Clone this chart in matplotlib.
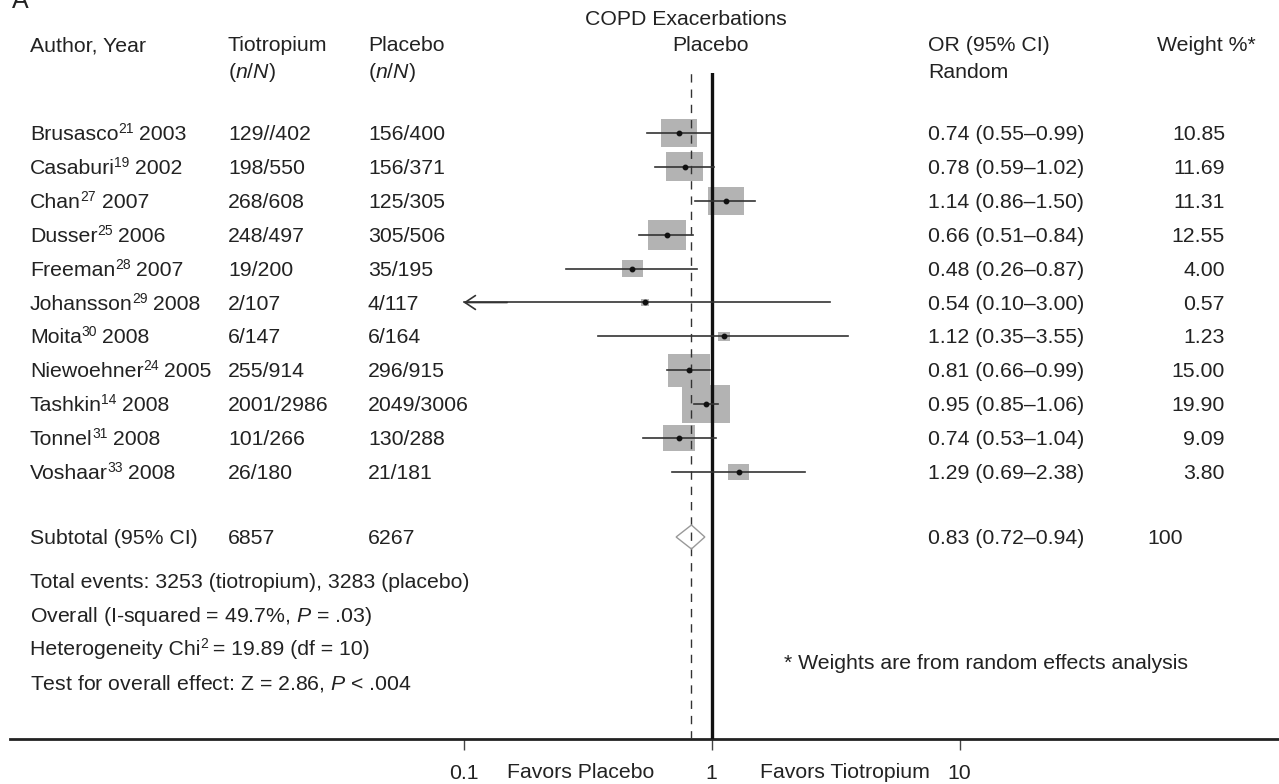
import numpy as np
import matplotlib
matplotlib.use("Agg")
from matplotlib import pyplot as plt
from matplotlib.patches import Rectangle, Polygon

plt.rcParams['font.family'] = ['Liberation Sans', 'DejaVu Sans']
plt.rcParams['mathtext.fontset'] = 'custom'
plt.rcParams['mathtext.rm'] = 'Liberation Sans'
plt.rcParams['mathtext.it'] = 'Liberation Sans:italic'

# COPD exacerbations, tiotropium vs placebo (random effects)
authors = ['Brusasco', 'Casaburi', 'Chan', 'Dusser', 'Freeman', 'Johansson',
           'Moita', 'Niewoehner', 'Tashkin', 'Tonnel', 'Voshaar']
refs = ['21', '19', '27', '25', '28', '29', '30', '24', '14', '31', '33']
years = [2003, 2002, 2007, 2006, 2007, 2008, 2008, 2005, 2008, 2008, 2008]
tio_events = ['129//402', '198/550', '268/608', '248/497', '19/200', '2/107',
              '6/147', '255/914', '2001/2986', '101/266', '26/180']
plac_events = ['156/400', '156/371', '125/305', '305/506', '35/195', '4/117',
               '6/164', '296/915', '2049/3006', '130/288', '21/181']
odds = [0.74, 0.78, 1.14, 0.66, 0.48, 0.54, 1.12, 0.81, 0.95, 0.74, 1.29]
ci_lo = [0.55, 0.59, 0.86, 0.51, 0.26, 0.10, 0.35, 0.66, 0.85, 0.53, 0.69]
ci_hi = [0.99, 1.02, 1.50, 0.84, 0.87, 3.00, 3.55, 0.99, 1.06, 1.04, 2.38]
weights = [10.85, 11.69, 11.31, 12.55, 4.00, 0.57, 1.23, 15.00, 19.90, 9.09, 3.80]

pooled_or = 0.83
pooled_lo = 0.72
pooled_hi = 0.94
total_tio = 6857
total_plac = 6267

W, H = 1279, 784
fig = plt.figure(figsize=(W / 100, H / 100), dpi=100)
renderer = fig.canvas.get_renderer()

# pixel-space layer for the table text
tx = fig.add_axes([0, 0, 1, 1])
tx.set_xlim(0, W)
tx.set_ylim(H, 0)
tx.axis('off')

# log-scaled forest panel, 1 at x=711.5, one decade = 248 px
left_px, right_px, top_px, bot_px = 10, W, 73, 739
dec = 248.0
x_one = 711.5
ax = fig.add_axes([left_px / W, 1 - bot_px / H, (right_px - left_px) / W, (bot_px - top_px) / H])
ax.patch.set_alpha(0)
ax.set_xscale('log')
ax.set_xlim(10 ** ((left_px - x_one) / dec), 10 ** ((right_px - x_one) / dec))
ax.set_ylim(bot_px, top_px)
for s in ['top', 'left', 'right']:
    ax.spines[s].set_visible(False)
ax.spines['bottom'].set_linewidth(2.0)
ax.spines['bottom'].set_color('#222222')
ax.set_yticks([])
ax.set_xticks([0.1, 1, 10])
ax.set_xticklabels(['0.1', '1', '10'])
ax.xaxis.set_minor_locator(matplotlib.ticker.NullLocator())
ax.tick_params(axis='x', direction='out', length=8, width=1, color='#444444',
               labelsize=15.3, labelcolor='#222222', pad=10)

row_y = [133 + 33.9 * i for i in range(len(authors))]
sub_y = 537

fs = 15.3
sup_fs = 10
tc = '#222222'


def put(x, y, s, **kw):
    kw.setdefault('fontsize', fs)
    return tx.text(x, y, s, color=tc, va='baseline', **kw)


def right_edge(t):
    bb = t.get_window_extent(renderer)
    return tx.transData.inverted().transform((bb.x1, 0))[0]


def put_sup(x, y, before, sup, after):
    # text with a small raised superscript in the middle
    t = put(x, y, before)
    x2 = right_edge(t) - 0.5
    t2 = put(x2, y - 7, sup, fontsize=sup_fs)
    x3 = right_edge(t2) - 0.5
    put(x3, y, after)


# gray weight boxes
for o, w, y in zip(odds, weights, row_y):
    hw = 5.35 * np.sqrt(w) / dec
    hh = 4.25 * np.sqrt(w)
    ax.add_patch(Rectangle((o * 10 ** -hw, y - hh), o * 10 ** hw - o * 10 ** -hw, 2 * hh,
                           facecolor='#b3b3b3', edgecolor='none', zorder=1))

# reference lines
ax.axvline(1, color='#111111', lw=2.4, zorder=3)
ax.axvline(pooled_or, color='#333333', lw=1.0, ls=(0, (6, 5)), zorder=3)

# confidence intervals and point estimates
for o, lo, hi, y in zip(odds, ci_lo, ci_hi, row_y):
    ax.plot([lo, hi], [y, y], color='#333333', lw=1.2, zorder=4)
    if lo <= 0.1:
        ax.annotate('', xy=(lo, y), xytext=(lo * 1.5, y),
                    arrowprops=dict(arrowstyle='->,head_length=0.75,head_width=0.5',
                                    color='#333333', lw=1.2, shrinkA=0, shrinkB=0),
                    zorder=4)
    ax.plot(o, y, 'o', color='#111111', ms=3.2, zorder=5)

# pooled diamond
ax.add_patch(Polygon([(pooled_lo, sub_y), (pooled_or, sub_y - 12),
                      (pooled_hi, sub_y), (pooled_or, sub_y + 12)],
                     closed=True, facecolor='none', edgecolor='#999999', lw=1.0, zorder=4))

# header
put(12, 8, 'A', fontsize=18)
put(686, 25, 'COPD Exacerbations', ha='center')
put(711, 51, 'Placebo', ha='center')
put(30, 51, 'Author, Year')
put(228, 51, 'Tiotropium')
put(368, 51, 'Placebo')
put(228, 78, '($\\mathit{n/N}$)')
put(368, 78, '($\\mathit{n/N}$)')
put(928, 51, 'OR (95% CI)')
put(928, 78, 'Random')
put(1157, 51, 'Weight %*')

# study rows
for i, y in enumerate(row_y):
    b = y + 7
    put_sup(30, b, authors[i], refs[i], ' %d' % years[i])
    put(228, b, tio_events[i])
    put(368, b, plac_events[i])
    put(928, b, '%.2f (%.2f\u2013%.2f)' % (odds[i], ci_lo[i], ci_hi[i]))
    put(1225, b, '%.2f' % weights[i], ha='right')

b = sub_y + 7
put(30, b, 'Subtotal (95% CI)')
put(228, b, str(total_tio))
put(368, b, str(total_plac))
put(928, b, '%.2f (%.2f\u2013%.2f)' % (pooled_or, pooled_lo, pooled_hi))
put(1147, b, '100')

# summary statistics
put(30, 588, 'Total events: 3253 (tiotropium), 3283 (placebo)')
put(30, 622, 'Overall (I-squared = 49.7%, $\\mathit{P}$ = .03)')
put_sup(30, 655, 'Heterogeneity Chi', '2', ' = 19.89 (df = 10)')
put(30, 689, 'Test for overall effect: Z = 2.86, $\\mathit{P}$ < .004')

put(784, 669, '* Weights are from random effects analysis')

put(581, 778, 'Favors Placebo', ha='center')
put(845, 778, 'Favors Tiotropium', ha='center')

fig.savefig('out.png', dpi=100)
